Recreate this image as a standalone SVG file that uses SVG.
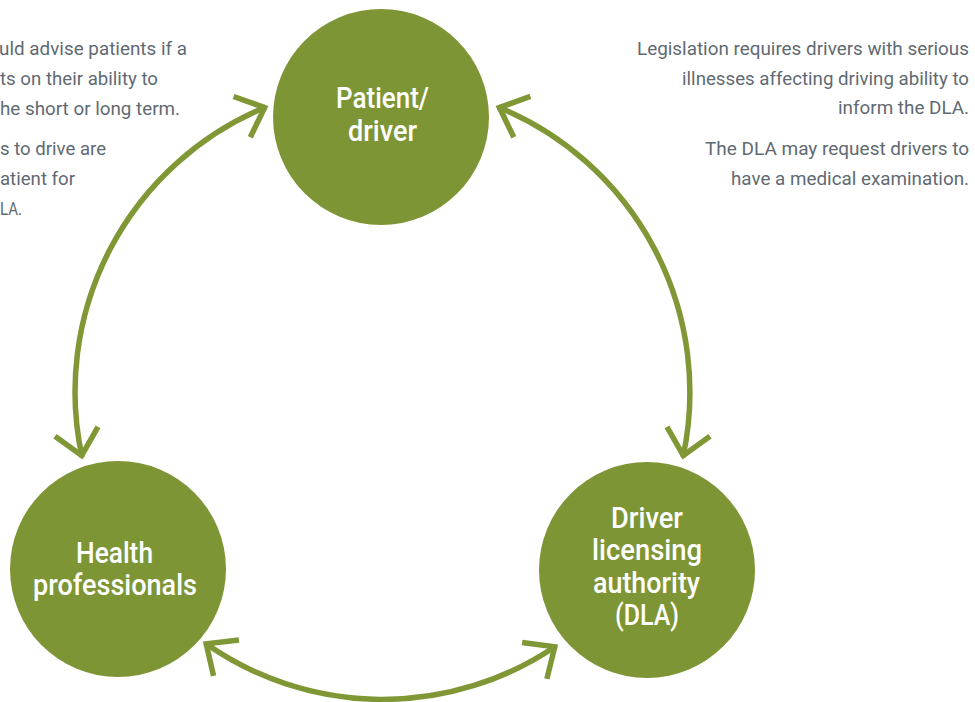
<svg xmlns="http://www.w3.org/2000/svg" width="975" height="702" viewBox="0 0 975 702">
<defs>
<style>
.node{fill:#7e9535}
.lbl{fill:#ffffff;font-family:Roboto,"Liberation Sans",sans-serif;font-weight:500;font-size:30px}
.note{fill:#5f6a72;font-family:Roboto,"Liberation Sans",sans-serif;font-size:19px}
.conn{fill:none;stroke:#809735;stroke-width:5.5}
</style>
<marker id="chev" markerUnits="userSpaceOnUse" viewBox="-40 -30 50 60" markerWidth="50" markerHeight="60" refX="0" refY="0" orient="auto-start-reverse" overflow="visible">
<path d="M-26,-22 L-1.5,0 L-26,22" fill="none" stroke="#809735" stroke-width="5.5" stroke-linejoin="miter"/>
</marker>
</defs>
<rect width="975" height="702" fill="#ffffff"/>
<g id="connectors">
<path class="conn" d="M266,107 A308,308 0 0 0 82,457" marker-start="url(#chev)" marker-end="url(#chev)"/>
<path class="conn" d="M498,107 A308,308 0 0 1 683,457" marker-start="url(#chev)" marker-end="url(#chev)"/>
<path class="conn" d="M205,643 A308,308 0 0 0 556,646" marker-start="url(#chev)" marker-end="url(#chev)"/>
</g>
<g id="patient" text-anchor="middle">
<circle class="node" cx="381" cy="117" r="108"/>
<text class="lbl" text-anchor="middle" x="382.5" y="108" textLength="93" lengthAdjust="spacingAndGlyphs">Patient/</text>
<text class="lbl" text-anchor="middle" x="382.5" y="141" textLength="69" lengthAdjust="spacingAndGlyphs">driver</text>
</g>
<g id="health" text-anchor="middle">
<circle class="node" cx="118" cy="569" r="108"/>
<text class="lbl" text-anchor="middle" x="114.5" y="563" textLength="77" lengthAdjust="spacingAndGlyphs">Health</text>
<text class="lbl" text-anchor="middle" x="115" y="595" textLength="164" lengthAdjust="spacingAndGlyphs">professionals</text>
</g>
<g id="dla" text-anchor="middle">
<circle class="node" cx="647" cy="570" r="108"/>
<text class="lbl" text-anchor="middle" x="647" y="528" textLength="72" lengthAdjust="spacingAndGlyphs">Driver</text>
<text class="lbl" text-anchor="middle" x="647" y="560" textLength="110" lengthAdjust="spacingAndGlyphs">licensing</text>
<text class="lbl" text-anchor="middle" x="646.5" y="593" textLength="107" lengthAdjust="spacingAndGlyphs">authority</text>
<text class="lbl" text-anchor="middle" x="647" y="625" textLength="64" lengthAdjust="spacingAndGlyphs">(DLA)</text>
</g>
<g id="note-left" text-anchor="end">
<text class="note" text-anchor="end" x="187" y="55" textLength="188" lengthAdjust="spacingAndGlyphs">uld advise patients if a</text>
<text class="note" text-anchor="end" x="158" y="85" textLength="158" lengthAdjust="spacingAndGlyphs">ts on their ability to</text>
<text class="note" text-anchor="end" x="180" y="115" textLength="180" lengthAdjust="spacingAndGlyphs">he short or long term.</text>
<text class="note" text-anchor="end" x="106" y="155" textLength="106" lengthAdjust="spacingAndGlyphs">s to drive are</text>
<text class="note" text-anchor="end" x="75" y="185" textLength="75" lengthAdjust="spacingAndGlyphs">atient for</text>
<text class="note" text-anchor="end" x="22" y="215" textLength="22" lengthAdjust="spacingAndGlyphs">LA.</text>
</g>
<g id="note-right" text-anchor="end">
<text class="note" text-anchor="end" x="969" y="55" textLength="332" lengthAdjust="spacingAndGlyphs">Legislation requires drivers with serious</text>
<text class="note" text-anchor="end" x="969" y="84.5" textLength="287" lengthAdjust="spacingAndGlyphs">illnesses affecting driving ability to</text>
<text class="note" text-anchor="end" x="969" y="114" textLength="131" lengthAdjust="spacingAndGlyphs">inform the DLA.</text>
<text class="note" text-anchor="end" x="969" y="155" textLength="264" lengthAdjust="spacingAndGlyphs">The DLA may request drivers to</text>
<text class="note" text-anchor="end" x="969" y="185" textLength="238" lengthAdjust="spacingAndGlyphs">have a medical examination.</text>
</g>
</svg>
